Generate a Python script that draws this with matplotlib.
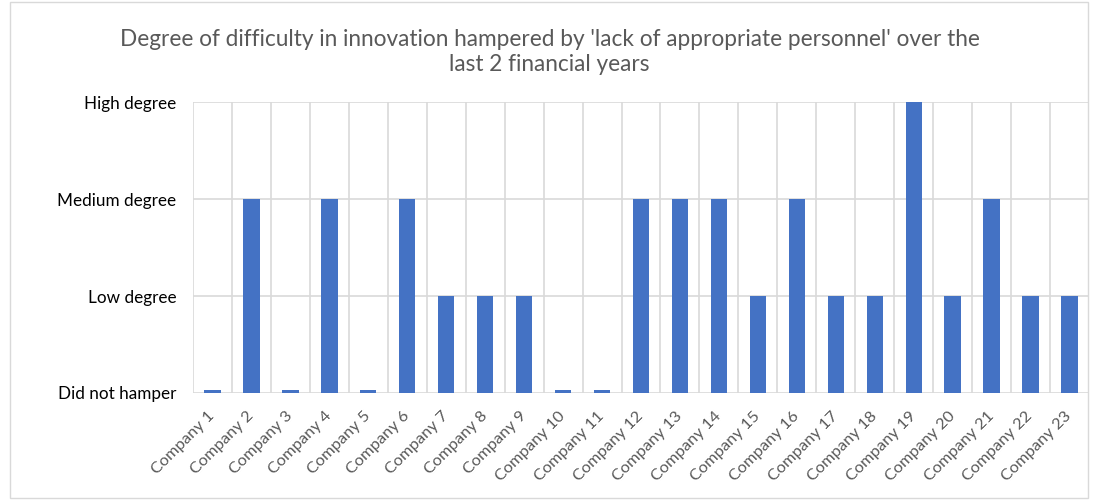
import numpy as np
import matplotlib.pyplot as plt
from matplotlib.patches import Rectangle

# Survey answers: 0 = did not hamper ... 3 = high degree
companies = ["Company %d" % i for i in range(1, 24)]
levels = [0, 2, 0, 2, 0, 2, 1, 1, 1, 0, 0, 2, 2, 2, 1, 2, 1, 1, 3, 1, 2, 1, 1]
level_names = ["Did not hamper", "Low degree", "Medium degree", "High degree"]

TITLE = ("Degree of difficulty in innovation hampered by 'lack of appropriate personnel' over the\n"
         "last 2 financial years")
BAR_COLOR = "#4472C4"
GRID_COLOR = "#D9D9D9"
TEXT_COLOR = "#595959"

plt.rcParams['font.family'] = ['Lato', 'DejaVu Sans']

fig = plt.figure(figsize=(10.99, 5.0), dpi=100)
ax = fig.add_axes([193 / 1099, 1 - 393 / 500, 896 / 1099, 291 / 500])

x = np.arange(len(companies))
# "did not hamper" still shows as a thin sliver on the baseline
heights = np.maximum(np.array(levels, dtype=float), 0.03)
ax.bar(x, heights, width=0.42, color=BAR_COLOR, zorder=3)

ax.set_xlim(-0.5, len(companies) - 0.5)
ax.set_ylim(0, 3)

# category separators and level lines
for b in np.arange(-0.5, len(companies), 1.0):
    ax.axvline(b, color=GRID_COLOR, lw=1.2, zorder=1)
for lv in range(4):
    ax.axhline(lv, color=GRID_COLOR, lw=1.2, zorder=1)

ax.set_yticks(range(4))
ax.set_yticklabels(level_names, fontsize=12.3, color="black")
ax.set_xticks(x)
ax.set_xticklabels(companies, rotation=45, ha="right", va="center",
                   rotation_mode="anchor", fontsize=11.8, color=TEXT_COLOR)
ax.tick_params(axis="both", length=0)
ax.tick_params(axis="y", pad=12)
ax.tick_params(axis="x", pad=15)
for s in ax.spines.values():
    s.set_visible(False)

fig.text(0.5, 1 - 52 / 500, TITLE, ha="center", va="center", fontsize=16.3,
         color=TEXT_COLOR, linespacing=1.25)

# outer chart border
fig.patches.append(Rectangle((10 / 1099, 2 / 500), 1078 / 1099, 496 / 500,
                             transform=fig.transFigure, fill=False,
                             edgecolor=GRID_COLOR, lw=1))

fig.savefig("out.png", dpi=100)
